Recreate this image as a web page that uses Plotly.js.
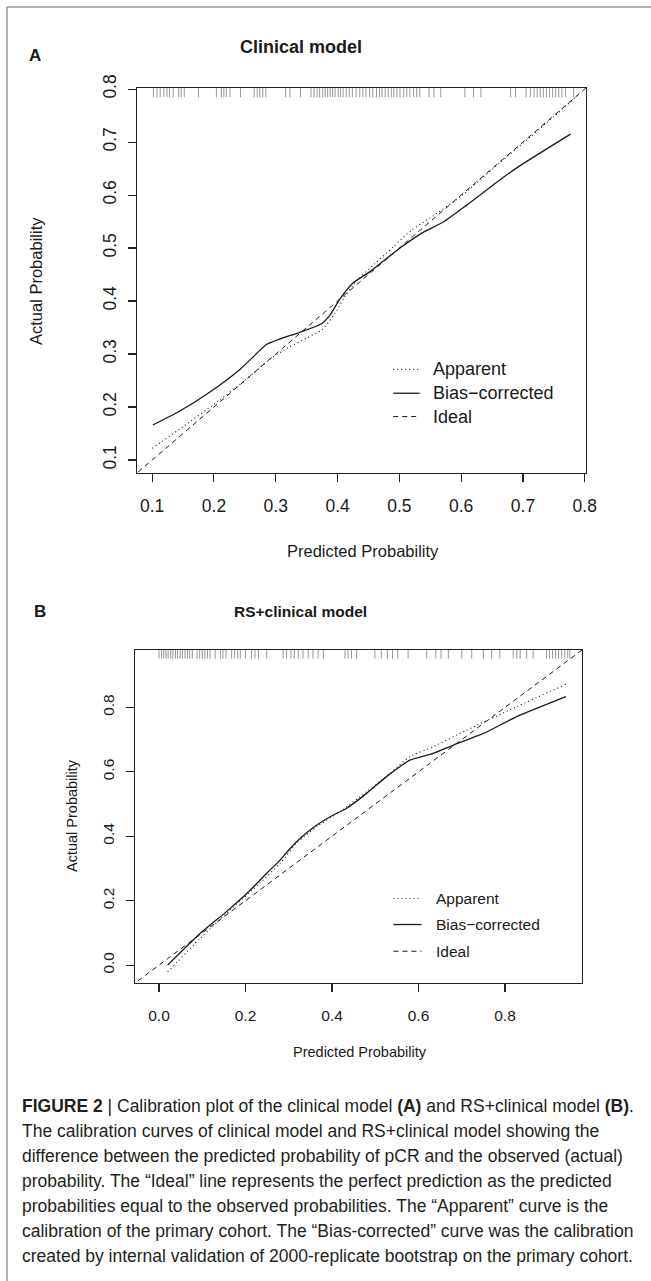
<!DOCTYPE html>
<html>
<head>
<meta charset="utf-8">
<script src="https://cdn.plot.ly/plotly-3.0.1.min.js"></script>
<style>
html,body{margin:0;padding:0;background:#fff;}
#chart{width:651px;height:1281px;}
</style>
</head>
<body>
<div id="chart"></div>
<script>
// ---------- DATA ----------
// Panel A: Clinical model
const clinApparentX = [0.100,0.150,0.200,0.250,0.290,0.320,0.350,0.375,0.395,0.410,0.430,0.460,0.490,0.520,0.550,0.600,0.650,0.700,0.750,0.790];
const clinApparentY = [0.122,0.163,0.205,0.250,0.290,0.312,0.330,0.346,0.375,0.405,0.437,0.470,0.502,0.534,0.557,0.598,0.648,0.698,0.748,0.790];
const clinBiasX = [0.101,0.144,0.193,0.242,0.269,0.285,0.306,0.339,0.374,0.388,0.404,0.425,0.452,0.479,0.501,0.539,0.571,0.609,0.663,0.696,0.777];
const clinBiasY = [0.166,0.192,0.228,0.271,0.301,0.318,0.328,0.341,0.357,0.374,0.404,0.434,0.455,0.480,0.500,0.530,0.549,0.581,0.629,0.656,0.715];
const clinRug = [0.102,0.108,0.113,0.119,0.124,0.128,0.134,0.143,0.147,0.152,0.175,0.204,0.212,0.216,0.220,0.226,0.243,0.265,0.270,0.274,0.279,0.284,0.316,0.323,0.340,
  0.357,0.362,0.367,0.371,0.376,0.380,0.384,0.388,0.392,0.396,0.401,0.405,0.409,0.414,0.419,0.424,0.430,0.436,0.441,0.446,0.452,0.457,0.463,0.468,0.472,0.477,0.482,0.487,0.491,0.496,0.501,0.507,0.512,0.517,0.523,0.528,0.533,
  0.548,0.556,0.567,0.606,0.620,0.632,0.680,0.688,0.705,0.712,0.718,0.723,0.728,0.733,0.738,0.743,0.748,0.753,0.758,0.763,0.769,0.782];
const clinTicks = [0.1,0.2,0.3,0.4,0.5,0.6,0.7,0.8];
const clinTickText = ["0.1","0.2","0.3","0.4","0.5","0.6","0.7","0.8"];

// Panel B: RS+clinical model
const rsApparentX = [0.020,0.095,0.172,0.233,0.280,0.318,0.365,0.418,0.480,0.534,0.580,0.634,0.711,0.827,0.941];
const rsApparentY = [-0.021,0.083,0.181,0.254,0.316,0.378,0.430,0.476,0.538,0.595,0.647,0.678,0.729,0.802,0.872];
const rsBiasX = [0.020,0.095,0.156,0.203,0.249,0.280,0.303,0.326,0.365,0.403,0.434,0.480,0.526,0.580,0.634,0.681,0.750,0.827,0.941];
const rsBiasY = [0.000,0.098,0.166,0.222,0.285,0.326,0.362,0.393,0.435,0.466,0.487,0.533,0.585,0.636,0.657,0.683,0.719,0.771,0.833];
const rsRug = [0.000,0.006,0.011,0.016,0.021,0.027,0.032,0.038,0.043,0.049,0.054,0.060,0.066,0.071,0.077,0.088,0.094,0.100,0.106,0.112,0.118,0.130,0.142,0.148,0.155,0.168,0.175,0.182,0.188,0.200,0.214,0.222,0.230,0.249,
  0.287,0.295,0.305,0.313,0.322,0.333,0.345,0.356,0.368,0.380,
  0.430,0.437,0.445,0.457,
  0.499,0.514,0.528,0.540,0.552,0.576,
  0.619,0.640,0.652,0.669,
  0.700,0.723,0.750,0.769,0.788,
  0.819,0.827,0.835,0.850,0.865,
  0.896,0.903,0.910,0.917,0.924,0.931,0.938,0.945,0.950];
const rsTicks = [0.0,0.2,0.4,0.6,0.8];
const rsTickText = ["0.0","0.2","0.4","0.6","0.8"];

const legendLabels = ["Apparent","Bias\u2212corrected","Ideal"];
const panelTitles = ["Clinical model","RS+clinical model"];
const panelLetters = ["A","B"];
const xTitle = "Predicted Probability";
const yTitle = "Actual Probability";
const captionLines = [
  "<b>FIGURE 2</b> | Calibration plot of the clinical model <b>(A)</b> and RS+clinical model <b>(B)</b>.",
  "The calibration curves of clinical model and RS+clinical model showing the",
  "difference between the predicted probability of pCR and the observed (actual)",
  "probability. The \u201cIdeal\u201d line represents the perfect prediction as the predicted",
  "probabilities equal to the observed probabilities. The \u201cApparent\u201d curve is the",
  "calibration of the primary cohort. The \u201cBias-corrected\u201d curve was the calibration",
  "created by internal validation of 2000-replicate bootstrap on the primary cohort."
];

// ---------- LAYOUT HELPERS ----------
const W = 651, H = 1281;
const PX = p => p / W;
const PY = p => 1 - p / H;
const rangeA = [0.0755, 0.802];
const rangeB = [-0.0555, 0.978];
const INK = '#1a1a1a';
const FONT = 'Liberation Sans, Arial, Helvetica, sans-serif';

function rugTrace(vals, range, xa, ya, frac) {
  const len = (range[1] - range[0]) * frac;
  const xs = [], ys = [];
  vals.forEach(v => { xs.push(v, v, null); ys.push(range[1], range[1] - len, null); });
  return {x: xs, y: ys, xaxis: xa, yaxis: ya, mode: 'lines', line: {color: '#8c8c8c', width: 0.9}, hoverinfo: 'skip', showlegend: false};
}
function curve(x, y, xa, ya, dash, width) {
  return {x: x, y: y, xaxis: xa, yaxis: ya, mode: 'lines', line: {color: INK, width: width, dash: dash, shape: 'spline', smoothing: 0.6}, showlegend: false, hoverinfo: 'skip'};
}

const DOT = '1px,3px', DASH = '5px,4px';
const traces = [
  rugTrace(clinRug, rangeA, 'x', 'y', 0.024),
  curve(clinApparentX, clinApparentY, 'x', 'y', DOT, 1.1),
  curve(clinBiasX, clinBiasY, 'x', 'y', 'solid', 1.3),
  {x: [0, 1], y: [0, 1], xaxis: 'x', yaxis: 'y', mode: 'lines', line: {color: INK, width: 1, dash: DASH}, showlegend: false, hoverinfo: 'skip'},
  rugTrace(rsRug, rangeB, 'x2', 'y2', 0.026),
  curve(rsApparentX, rsApparentY, 'x2', 'y2', DOT, 1.1),
  curve(rsBiasX, rsBiasY, 'x2', 'y2', 'solid', 1.3),
  {x: [-1, 2], y: [-1, 2], xaxis: 'x2', yaxis: 'y2', mode: 'lines', line: {color: INK, width: 1, dash: DASH}, showlegend: false, hoverinfo: 'skip'}
];

function axis(domain, range, tickvals, ticktext, anchor, fs, angle, standoff) {
  return {
    domain: domain, range: range, anchor: anchor, tickmode: 'array', tickvals: tickvals, ticktext: ticktext,
    showgrid: false, zeroline: false, showline: true, mirror: true, linecolor: '#222', linewidth: 1.2,
    ticks: 'outside', ticklen: 8, tickwidth: 1.1, tickcolor: '#222', tickangle: angle,
    tickfont: {family: FONT, size: fs, color: INK}, ticklabelstandoff: standoff, fixedrange: true
  };
}

const layout = {
  width: W, height: H, margin: {l: 0, r: 0, t: 0, b: 0},
  paper_bgcolor: '#fff', plot_bgcolor: '#fff', showlegend: false,
  xaxis: axis([PX(137), PX(586)], rangeA, clinTicks, clinTickText, 'y', 17.5, 0, 9),
  yaxis: axis([PY(473), PY(88)], rangeA, clinTicks, clinTickText, 'x', 17.5, -90, 5),
  xaxis2: axis([PX(135), PX(582)], rangeB, rsTicks, rsTickText, 'y2', 15.5, 0, 10),
  yaxis2: axis([PY(983), PY(650)], rangeB, rsTicks, rsTickText, 'x2', 15.5, -90, 6),
  shapes: [
    // outer frame of the figure
    {type: 'line', xref: 'paper', yref: 'paper', x0: PX(7), x1: 1.01, y0: PY(7), y1: PY(7), line: {color: '#9a9a9a', width: 1.5}},
    {type: 'line', xref: 'paper', yref: 'paper', x0: PX(7), x1: PX(7), y0: PY(7), y1: -0.01, line: {color: '#9a9a9a', width: 1.5}}
  ],
  annotations: []
};

// legend (drawn manually, R style)
function addLegend(xa, ya, x0, x1, xt, ys, fs) {
  const dashes = [DOT, 'solid', DASH];
  ys.forEach((yv, i) => {
    layout.shapes.push({type: 'line', xref: xa, yref: ya, x0: x0, x1: x1, y0: yv, y1: yv, line: {color: INK, width: i === 1 ? 1.3 : 1, dash: dashes[i]}});
    layout.annotations.push({xref: xa, yref: ya, x: xt, y: yv, text: legendLabels[i], showarrow: false, xanchor: 'left', yanchor: 'middle', font: {family: FONT, size: fs, color: INK}});
  });
}
addLegend('x', 'y', 0.490, 0.533, 0.551, [0.271, 0.226, 0.182], 18);
addLegend('x2', 'y2', 0.542, 0.607, 0.636, [0.207, 0.126, 0.043], 15.5);

function ann(x, y, text, size, opts) {
  layout.annotations.push(Object.assign({xref: 'paper', yref: 'paper', x: PX(x), y: PY(y), text: text, showarrow: false,
    xanchor: 'center', yanchor: 'middle', font: {family: FONT, size: size, color: INK}}, opts || {}));
}
// panel letters and titles
ann(35, 55, '<b>' + panelLetters[0] + '</b>', 17);
ann(301, 47, '<b>' + panelTitles[0] + '</b>', 18);
ann(40, 611, '<b>' + panelLetters[1] + '</b>', 17);
ann(300, 611, '<b>' + panelTitles[1] + '</b>', 15.5);
// axis titles
ann(363, 551, xTitle, 16.5);
ann(36, 281, yTitle, 16.5, {textangle: -90});
ann(360, 1052, xTitle, 14.5);
ann(72, 816, yTitle, 14.5, {textangle: -90});
// caption
captionLines.forEach((t, i) => {
  ann(20, 1106 + i * 25, t, 17.5, {xanchor: 'left', font: {family: 'Liberation Sans Narrow, Liberation Sans, Arial, sans-serif', size: 17.5, color: '#231f20'}});
});

Plotly.newPlot('chart', traces, layout, {displayModeBar: false, staticPlot: true});
</script>
</body>
</html>
